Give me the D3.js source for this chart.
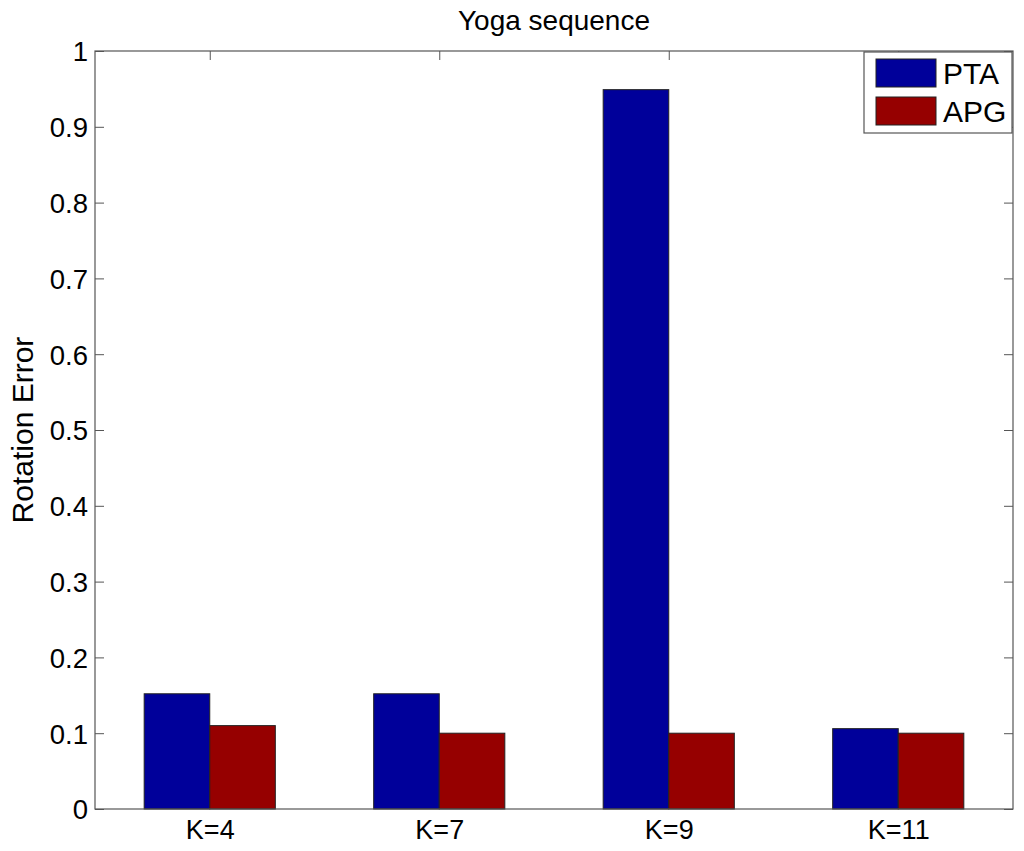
<!DOCTYPE html>
<html>
<head>
<meta charset="utf-8">
<script src="https://cdn.jsdelivr.net/npm/d3@7"></script>
<style>
  body { margin: 0; background: #fff; }
  text { font-family: "Liberation Sans", Arial, sans-serif; fill: #000; }
</style>
</head>
<body>
<svg id="chart" width="1024" height="851"></svg>
<script>
const categories = ["K=4", "K=7", "K=9", "K=11"];
const seriesNames = ["PTA", "APG"];
const ptaValues = [0.152, 0.152, 0.949, 0.106];
const apgValues = [0.110, 0.100, 0.100, 0.100];
const yTicks = [0, 0.1, 0.2, 0.3, 0.4, 0.5, 0.6, 0.7, 0.8, 0.9, 1];
const colors = ["#00009A", "#960000"];

(function () {
const svg = d3.select("#chart");
const pLeft = 95, pRight = 1013, pTop = 51, pBottom = 809;

const x = d3.scaleLinear().domain([0.5, categories.length + 0.5]).range([pLeft, pRight]);
const y = d3.scaleLinear().domain([0, 1]).range([pBottom, pTop]);
const barW = 2 / 3.5 / 2; // MATLAB group width split in two
const axisColor = "#555";

const series = [ptaValues, apgValues];
const xTicks = categories.map((c, i) => i + 1);

// X axis (bottom labels, inward ticks) drawn first so bars cover ticks
const xAxisB = d3.axisBottom(x).tickValues(xTicks).tickSizeInner(-9).tickSizeOuter(0)
  .tickFormat((d, i) => categories[i]).tickPadding(11);
const gB = svg.append("g").attr("transform", `translate(0,${pBottom})`).call(xAxisB);
gB.select(".domain").remove();
gB.selectAll("line").attr("stroke", axisColor);
gB.selectAll("text").attr("font-size", 27)
  .style("font-family", "Liberation Sans, Arial, sans-serif");

// Bars
series.forEach((vals, si) => {
  svg.append("g").selectAll("rect").data(vals).join("rect")
    .attr("x", (d, i) => x(i + 1 - barW + si * barW))
    .attr("width", x(barW) - x(0))
    .attr("y", d => y(d))
    .attr("height", d => y(0) - y(d))
    .attr("fill", colors[si])
    .attr("stroke", "#222")
    .attr("stroke-width", 1);
});

// Axes box
svg.append("rect").attr("x", pLeft).attr("y", pTop)
  .attr("width", pRight - pLeft).attr("height", pBottom - pTop)
  .attr("fill", "none").attr("stroke", axisColor).attr("stroke-width", 1.2);

// Y axis (left, inward ticks)
const yAxisL = d3.axisLeft(y).tickValues(yTicks).tickSizeInner(-9).tickSizeOuter(0)
  .tickFormat(d => d3.format("")(d)).tickPadding(7);
const gL = svg.append("g").attr("transform", `translate(${pLeft},0)`).call(yAxisL);
gL.select(".domain").remove();
gL.selectAll("line").attr("stroke", axisColor);
gL.selectAll("text").attr("font-size", 27.5).attr("dy", "0.36em")
  .style("font-family", "Liberation Sans, Arial, sans-serif");

const yAxisR = d3.axisRight(y).tickValues(yTicks).tickSizeInner(-9).tickSizeOuter(0).tickFormat("");
const gR = svg.append("g").attr("transform", `translate(${pRight},0)`).call(yAxisR);
gR.select(".domain").remove();
gR.selectAll("line").attr("stroke", axisColor);

const xAxisT = d3.axisTop(x).tickValues(xTicks).tickSizeInner(-9).tickSizeOuter(0).tickFormat("");
const gT = svg.append("g").attr("transform", `translate(0,${pTop})`).call(xAxisT);
gT.select(".domain").remove();
gT.selectAll("line").attr("stroke", axisColor);

// Title
svg.append("text").attr("x", (pLeft + pRight) / 2).attr("y", 30)
  .attr("text-anchor", "middle").attr("font-size", 28).text("Yoga sequence");

// Y label
svg.append("text").attr("transform", `translate(33,${(pTop + pBottom) / 2}) rotate(-90)`)
  .attr("text-anchor", "middle").attr("font-size", 30).text("Rotation Error");

// Legend
const lg = svg.append("g");
lg.append("rect").attr("x", 864).attr("y", 52).attr("width", 148).attr("height", 81)
  .attr("fill", "#fff").attr("stroke", axisColor).attr("stroke-width", 1.2);
seriesNames.forEach((name, i) => {
  const yy = 59 + i * 38;
  lg.append("rect").attr("x", 876).attr("y", yy).attr("width", 60).attr("height", 28)
    .attr("fill", colors[i]).attr("stroke", "#222");
  lg.append("text").attr("x", 943).attr("y", yy + 14).attr("dy", "0.36em")
    .attr("font-size", 30).text(name);
});
})();
</script>
</body>
</html>
